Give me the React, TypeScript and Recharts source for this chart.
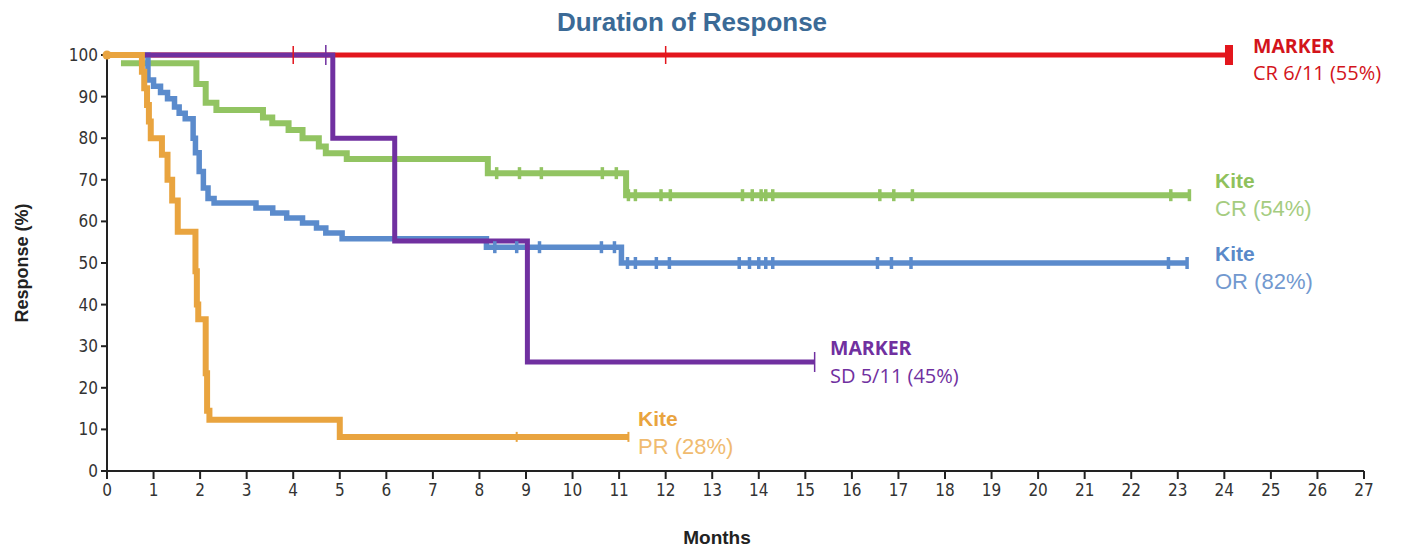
import React from "react";
import { LineChart, Line, XAxis, YAxis } from "recharts";

// Kaplan-Meier style step data (months -> % still responding)
const prTimes = [0, 0.75, 0.8, 0.86, 0.9, 0.94, 1.18, 1.3, 1.4, 1.52, 1.9, 1.93, 1.96, 2.12, 2.15, 2.2, 5.0];
const prValues = [100, 96, 92, 88, 84, 80, 76, 70, 65, 57.5, 48, 40, 36.5, 23.5, 14.5, 12.3, 8.2];
const prCensor = [8.8];
const prEnd = 11.2;

const crTimes = [0.3, 1.92, 2.12, 2.35, 3.35, 3.55, 3.9, 4.2, 4.55, 4.7, 5.15, 8.18, 11.15];
const crValues = [98, 93, 88.5, 86.8, 85, 83.6, 82, 80, 78, 76.4, 75, 71.6, 66.3];
const crCensor = [8.37, 8.86, 9.33, 10.64, 10.94, 11.2, 11.35, 11.9, 12.1, 13.65, 13.86, 14.05, 14.15, 14.3, 16.6, 16.9, 17.3, 22.85];
const crEnd = 23.25;

const orTimes = [0, 0.88, 1.0, 1.15, 1.3, 1.45, 1.55, 1.68, 1.85, 1.9, 1.98, 2.07, 2.17, 2.3, 3.2, 3.56, 3.86, 4.2, 4.5, 4.7, 5.05, 8.15, 11.05];
const orValues = [100, 94, 92.5, 91, 89.5, 87.5, 86, 84.7, 80, 76.5, 72, 68, 65.5, 64.4, 63.2, 62, 60.8, 59.6, 58.4, 57.2, 55.8, 53.8, 50];
const orCensor = [8.33, 8.8, 9.29, 10.62, 10.9, 11.18, 11.35, 11.8, 12.08, 13.58, 13.8, 14.0, 14.15, 14.3, 16.55, 16.85, 17.27, 22.8];
const orEnd = 23.2;

const sdTimes = [0, 4.85, 6.18, 9.03];
const sdValues = [100, 80, 55.3, 26.2];
const sdCensor = [4.7];
const sdEnd = 15.2;

const mCrTimes = [0];
const mCrValues = [100];
const mCrCensor = [4.0, 12.0];
const mCrEnd = 24.1;

const xTicks = Array.from({ length: 28 }, (_, i) => i);
const yTicks = [0, 10, 20, 30, 40, 50, 60, 70, 80, 90, 100];

const RED = "#e3161d";
const PURPLE = "#7030a0";
const GREEN = "#92c462";
const BLUE = "#5b8bcc";
const ORANGE = "#e9a43f";

function valueAt(times: number[], values: number[], t: number) {
  let v = values[0];
  for (let i = 0; i < times.length; i++) if (times[i] <= t) v = values[i];
  return v;
}

function build(times: number[], values: number[], censor: number[], end: number) {
  const pts: any[] = times.map((t, i) => ({ x: t, y: values[i], start: i === 0 }));
  censor.forEach((t) => pts.push({ x: t, y: valueAt(times, values, t), c: true }));
  pts.push({ x: end, y: valueAt(times, values, end), c: true, end: true });
  return pts.sort((a, b) => a.x - b.x);
}

const prData = build(prTimes, prValues, prCensor, prEnd);
const crData = build(crTimes, crValues, crCensor, crEnd);
const orData = build(orTimes, orValues, orCensor, orEnd);
const sdData = build(sdTimes, sdValues, sdCensor, sdEnd);
const mCrData = build(mCrTimes, mCrValues, mCrCensor, mCrEnd);

const censorDot = (color: string, h: number, w: number, opts: any = {}) => (props: any) => {
  const { cx, cy, payload, index } = props;
  if (opts.startDot && payload.start && payload.x === 0) {
    return <circle key={index} cx={cx} cy={cy} r={4.5} fill={color} />;
  }
  if (opts.bar && payload.end) {
    return <rect key={index} x={cx - 4} y={cy - 10} width={8} height={20} fill={color} />;
  }
  if (!payload.c) return <g key={index} />;
  return <line key={index} x1={cx} x2={cx} y1={cy - h} y2={cy + h} stroke={color} strokeWidth={w} />;
};

const tickFont = "'Liberation Sans Narrow', 'DejaVu Sans Condensed', 'Liberation Sans', sans-serif";
const labelFont = "'Liberation Sans', Arial, sans-serif";
const noteFont = "'Open Sans', 'Noto Sans', sans-serif";

function Note({ x, y, color, size, bold, font, children }: any) {
  return (
    <div
      style={{
        position: "absolute",
        left: x,
        top: y - size / 2,
        color,
        fontSize: size,
        lineHeight: 1,
        fontWeight: bold ? 700 : 400,
        fontFamily: font,
        whiteSpace: "nowrap",
      }}
    >
      {children}
    </div>
  );
}

export default function App() {
  return (
    <div style={{ position: "absolute", left: 0, top: 0, width: 1403, height: 554, background: "#fff" }}>
      <LineChart width={1403} height={554} margin={{ top: 55, right: 39, left: 0, bottom: 0 }}>
        <XAxis
          dataKey="x"
          type="number"
          domain={[0, 27]}
          ticks={xTicks}
          interval={0}
          height={83}
          allowDuplicatedCategory={false}
          axisLine={{ stroke: "#222", strokeWidth: 2 }}
          tickLine={{ stroke: "#222", strokeWidth: 2 }}
          tickSize={8}
          tickMargin={5}
          tick={{ fill: "#333", fontSize: 17, fontFamily: tickFont }}
        />
        <YAxis
          type="number"
          domain={[0, 100]}
          ticks={yTicks}
          interval={0}
          width={107}
          axisLine={{ stroke: "#222", strokeWidth: 2 }}
          tickLine={{ stroke: "#222", strokeWidth: 2 }}
          tickSize={6}
          tickMargin={3}
          tick={{ fill: "#333", fontSize: 17, fontFamily: tickFont }}
        />
        <Line data={mCrData} dataKey="y" type="stepAfter" stroke={RED} strokeWidth={5}
          dot={censorDot(RED, 9, 1.5, { bar: true })} activeDot={false} isAnimationActive={false} />
        <Line data={crData} dataKey="y" type="stepAfter" stroke={GREEN} strokeWidth={6}
          dot={censorDot(GREEN, 6, 3.5)} activeDot={false} isAnimationActive={false} />
        <Line data={orData} dataKey="y" type="stepAfter" stroke={BLUE} strokeWidth={5.5}
          dot={censorDot(BLUE, 6, 3.5)} activeDot={false} isAnimationActive={false} />
        <Line data={sdData} dataKey="y" type="stepAfter" stroke={PURPLE} strokeWidth={5}
          dot={censorDot(PURPLE, 10, 1.5)} activeDot={false} isAnimationActive={false} />
        <Line data={prData} dataKey="y" type="stepAfter" stroke={ORANGE} strokeWidth={6}
          dot={censorDot(ORANGE, 5, 2, { startDot: true })} activeDot={false} isAnimationActive={false} />
      </LineChart>

      <div style={{ position: "absolute", left: 692, top: 22, transform: "translate(-50%, -50%)",
        fontFamily: labelFont, fontWeight: 700, fontSize: 26, color: "#3b6a96", whiteSpace: "nowrap" }}>
        Duration of Response
      </div>
      <div style={{ position: "absolute", left: 22, top: 263, transform: "translate(-50%, -50%) rotate(-90deg)",
        fontFamily: labelFont, fontWeight: 700, fontSize: 18, color: "#222", whiteSpace: "nowrap" }}>
        Response (%)
      </div>
      <div style={{ position: "absolute", left: 717, top: 538, transform: "translate(-50%, -50%)",
        fontFamily: labelFont, fontWeight: 700, fontSize: 19, color: "#222", whiteSpace: "nowrap" }}>
        Months
      </div>

      <Note x={1253} y={46} color="#d3141b" size={19.5} bold font={noteFont}>MARKER</Note>
      <Note x={1253} y={73} color="#d3141b" size={20} font={noteFont}>CR 6/11 (55%)</Note>

      <Note x={1215} y={180} color="#8fc15c" size={21} bold font={labelFont}>Kite</Note>
      <Note x={1215} y={209} color="#a5cc80" size={22} font={labelFont}>CR (54%)</Note>

      <Note x={1215} y={253} color="#5a89c9" size={21} bold font={labelFont}>Kite</Note>
      <Note x={1215} y={282} color="#7299cf" size={22} font={labelFont}>OR (82%)</Note>

      <Note x={830} y={348} color="#7030a0" size={19.5} bold font={noteFont}>MARKER</Note>
      <Note x={830} y={376} color="#7030a0" size={20} font={noteFont}>SD 5/11 (45%)</Note>

      <Note x={638} y={418} color="#e9a43f" size={21} bold font={labelFont}>Kite</Note>
      <Note x={638} y={447} color="#f0bb70" size={22} font={labelFont}>PR (28%)</Note>
    </div>
  );
}
